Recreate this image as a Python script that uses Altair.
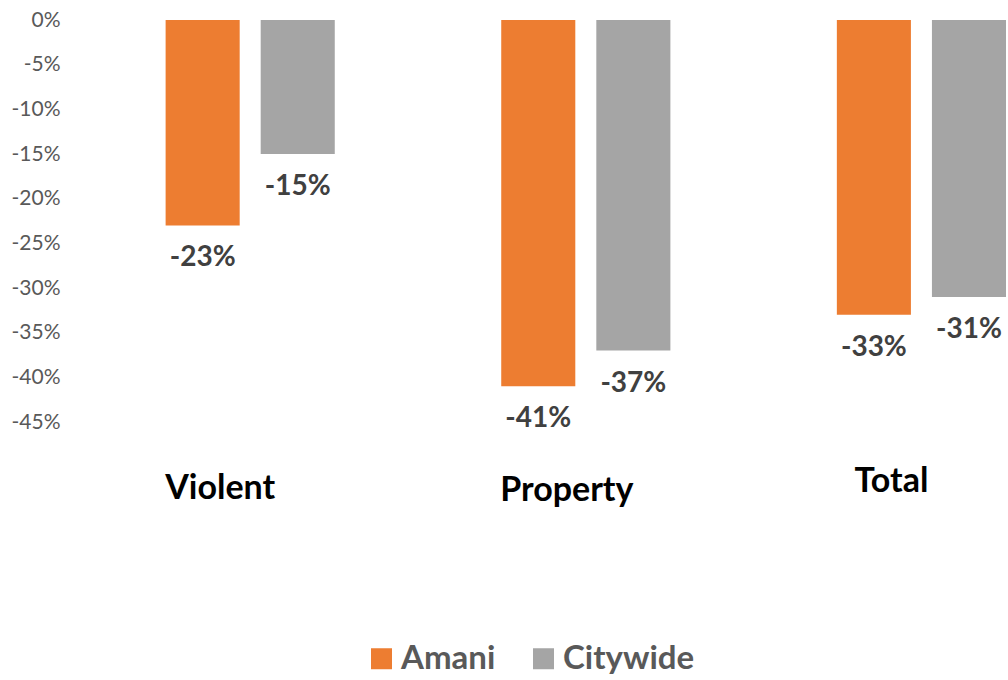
import altair as alt
import pandas as pd

categories = ["Violent", "Property", "Total"]
series = ["Amani", "Citywide"]
amani = [-0.23, -0.41, -0.33]
citywide = [-0.15, -0.37, -0.31]
colors = ["#ED7D31", "#A5A5A5"]
y_ticks = [0, -0.05, -0.10, -0.15, -0.20, -0.25, -0.30, -0.35, -0.40, -0.45]

rows = []
for i, c in enumerate(categories):
    rows.append({"category": c, "series": "Amani", "value": amani[i]})
    rows.append({"category": c, "series": "Citywide", "value": citywide[i]})
df = pd.DataFrame(rows)

FONT = "Lato"

x_enc = alt.X(
    "category:N",
    sort=categories,
    scale=alt.Scale(paddingInner=0.496, paddingOuter=0.135, align=1),
    axis=alt.Axis(
        title=None, domain=False, ticks=False, labelAngle=0,
        labelFont=FONT, labelFontSize=34, labelFontWeight="bold",
        labelColor="#000000",
        labelPadding={"condition": [
            {"test": "datum.value == 'Total'", "value": 42},
            {"test": "datum.value == 'Property'", "value": 51},
        ], "value": 49},
        labelOffset={"condition": {"test": "datum.value == 'Property'", "value": -19},
                     "value": -30},
    ),
)
xoff = alt.XOffset("series:N", sort=series,
                   scale=alt.Scale(paddingInner=0.221, paddingOuter=0))
y_enc = alt.Y(
    "value:Q",
    scale=alt.Scale(domain=[-0.45, 0], nice=False, zero=True),
    axis=alt.Axis(
        title=None, values=y_ticks, format=".0%", domain=False, ticks=False,
        grid=False, labelFont=FONT, labelFontSize=21, labelColor="#595959",
        labelPadding=15, labelExpr="replace(datum.label, '\u2212', '-')",
    ),
)

base = alt.Chart(df)
bars = base.mark_bar().encode(
    x=x_enc,
    xOffset=xoff,
    y=y_enc,
    color=alt.Color(
        "series:N", sort=series,
        scale=alt.Scale(domain=series, range=colors),
        legend=alt.Legend(
            title=None, orient="none", direction="horizontal",
            legendX=290, legendY=622,
            symbolType="square", symbolSize=441, symbolStrokeWidth=0,
            symbolOpacity=1,
            labelFont=FONT, labelFontSize=33, labelFontWeight="bold",
            labelColor="#595959", labelOffset=3, columnPadding=31,
        ),
    ),
)
labels = base.transform_calculate(
    lab="'-' + format(abs(datum.value), '.0%')"
).mark_text(
    font=FONT, fontSize=28, fontWeight="bold", color="#404040",
    baseline="middle", dy=33,
).encode(
    x=alt.X("category:N", sort=categories),
    xOffset=alt.XOffset("series:N", sort=series),
    y="value:Q",
    text="lab:N",
)

chart = alt.layer(bars, labels).properties(
    width=931, height=402,
    padding={"left": 75, "top": 20, "right": 2, "bottom": 258},
    autosize=alt.AutoSizeParams(type="none"),
).configure_view(stroke=None)

chart.save("out.html", embed_options={"renderer": "svg", "actions": False})
